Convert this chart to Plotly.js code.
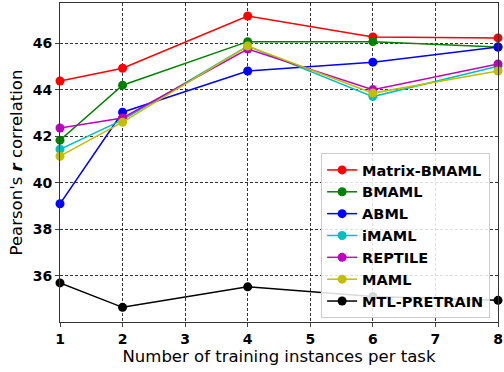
<!DOCTYPE html>
<html><head><meta charset="utf-8">
<script src="https://cdn.plot.ly/plotly-3.0.1.min.js"></script>
<style>body{margin:0;padding:0;background:#fff}#chart{width:504px;height:372px}</style>
</head><body><div id="chart"></div>
<script>
const xs = [1, 2, 4, 6, 8];
const matrixBMAML = [44.37, 44.92, 47.16, 46.26, 46.22];
const bmaml = [41.83, 44.19, 46.06, 46.06, 45.83];
const abml = [39.1, 43.03, 44.8, 45.18, 45.83];
const imaml = [41.44, 42.7, 45.87, 43.7, 45.0];
const reptile = [42.35, 42.78, 45.74, 44.0, 45.1];
const maml = [41.14, 42.6, 45.87, 43.85, 44.8];
const mtlPretrain = [35.7, 34.65, 35.53, 35.12, 34.95];
const names = ['Matrix-BMAML','BMAML','ABML','iMAML','REPTILE','MAML','MTL-PRETRAIN'];
const colors = ['#ff0000','#008000','#0000ff','#00bfbf','#bf00bf','#bfbf00','#000000'];
const series = [matrixBMAML, bmaml, abml, imaml, reptile, maml, mtlPretrain];

const traces = series.map((ys, i) => ({
  x: xs, y: ys, name: names[i], type: 'scatter', mode: 'lines+markers',
  line: {color: colors[i], width: 1.5},
  marker: {color: colors[i], size: 9},
  cliponaxis: false
}));

const grid = {showgrid: true, gridcolor: '#000', griddash: '3px,2px', gridwidth: 0.8};
const layout = {
  width: 504, height: 372,
  margin: {l: 60, r: 6, t: 3, b: 50},
  paper_bgcolor: '#fff', plot_bgcolor: '#fff',
  font: {family: 'DejaVu Sans', color: '#000'},
  showlegend: true,
  xaxis: Object.assign({
    range: [1, 8], tickvals: [1,2,3,4,5,6,7,8], ticks: 'outside', ticklen: 4,
    tickfont: {size: 14, weight: 'bold'}, zeroline: false,
    showline: true, linecolor: '#333', linewidth: 1, mirror: true,
    title: {text: 'Number of training instances per task', font: {size: 16.5}, standoff: 4}
  }, grid),
  yaxis: Object.assign({
    range: [34.02, 47.72], tickvals: [36,38,40,42,44,46], ticks: 'outside', ticklen: 4,
    tickfont: {size: 14, weight: 'bold'}, zeroline: false,
    showline: true, linecolor: '#333', linewidth: 1, mirror: true,
    title: {text: "Pearson's <b><i>r</i></b> correlation", font: {size: 16.5}, standoff: 5}
  }, grid),
  legend: {
    x: 0.982, y: 0.0125, xanchor: 'right', yanchor: 'bottom',
    bgcolor: 'rgba(255,255,255,0.85)', bordercolor: '#ccc', borderwidth: 1,
    font: {size: 14.5, weight: 'bold'}
  }
};
Plotly.newPlot('chart', traces, layout, {staticPlot: true});
</script></body></html>
